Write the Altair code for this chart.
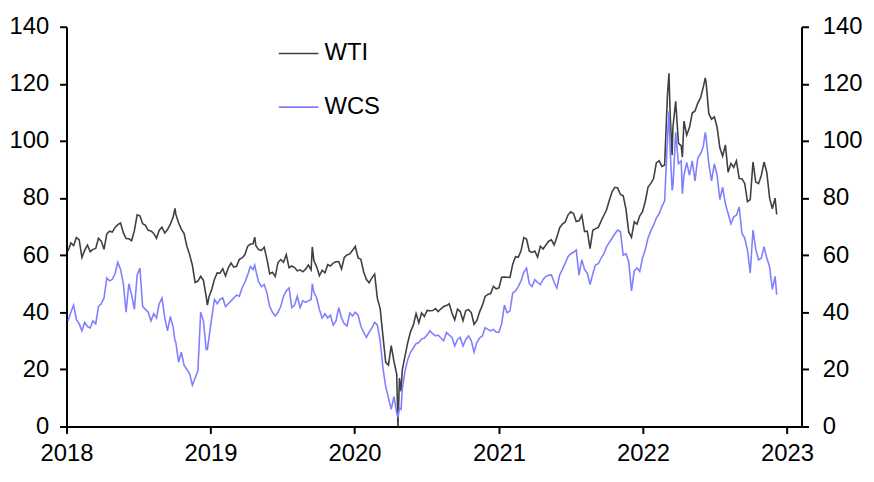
import altair as alt
import pandas as pd

# Weekly (Friday) observations, US$ per barrel
wti_2018 = [61.44, 64.30, 63.37, 66.14,
            65.45, 59.20, 61.68, 63.55,
            61.25, 62.04, 62.34, 65.88, 64.94,
            62.06, 67.39, 68.38, 68.10,
            69.72, 70.70, 71.28, 67.88,
            65.81, 65.74, 65.06, 68.58, 74.15,
            73.80, 71.01, 70.46, 68.69,
            68.49, 67.63, 65.91, 68.72, 69.80,
            67.75, 68.99, 70.78, 73.25,
            74.34, 71.34, 69.12, 67.59,
            63.14, 60.19, 56.46, 50.42, 50.93,
            52.61, 51.20, 45.59, 45.33]
wti_2019 = [47.96, 51.59, 53.80, 53.69,
            55.26, 52.72, 55.59, 57.26,
            55.80, 56.07, 58.52, 59.04, 60.14,
            63.08, 63.89, 64.00, 63.30,
            61.94, 61.66, 62.76, 58.63, 53.50,
            53.99, 52.51, 57.43, 58.47,
            57.51, 60.21, 55.63, 56.20,
            55.66, 54.50, 54.87, 54.17, 55.10,
            56.52, 54.85, 58.09, 55.91,
            52.81, 54.70, 53.78, 56.66,
            56.20, 57.24, 57.72, 57.77, 55.17,
            59.20, 60.07, 60.44, 61.72]
wti_2020 = [63.05, 59.04, 58.54, 54.19, 51.56,
            50.32, 52.05, 53.38, 44.76,
            41.28, 31.73, 22.43, 21.51,
            28.34, 22.76, 18.27, 16.94,
            19.78, 24.74, 29.43, 33.25, 35.49,
            39.55, 36.26, 39.75, 38.49,
            40.65, 40.55, 40.59, 41.29, 40.27,
            41.22, 42.01, 42.34, 42.97,
            39.77, 37.33, 41.11, 40.25,
            37.05, 40.60, 40.88, 39.85, 35.79,
            37.14, 40.13, 42.42, 45.53,
            46.26, 46.57, 49.10, 48.23]
wti_2021 = [48.52, 52.24, 52.36, 52.27, 52.20,
            56.85, 59.47, 59.24, 61.50,
            66.09, 65.61, 61.42, 60.97,
            61.45, 59.32, 63.13, 62.14, 63.58,
            64.90, 65.37, 63.58, 66.32,
            69.62, 70.91, 71.64, 74.05,
            75.16, 74.56, 71.81, 72.07, 73.95,
            68.28, 68.44, 62.32, 68.74,
            69.29, 69.72, 71.97, 73.98,
            75.88, 79.35, 82.28, 83.76, 83.57,
            81.27, 80.79, 76.10, 68.15,
            66.26, 71.67, 70.86, 73.79, 75.21]
wti_2022 = [78.90, 83.82, 85.14, 86.82,
            92.31, 93.10, 91.07, 91.59,
            115.68, 109.33, 104.70, 113.90,
            99.27, 98.26, 106.95, 102.07, 104.69,
            109.77, 110.49, 113.23, 115.07,
            118.87, 120.67, 109.56, 107.62,
            108.43, 104.79, 97.59, 94.70, 98.62,
            89.01, 92.09, 90.77, 93.06,
            86.87, 86.79, 85.11, 78.74, 79.49,
            92.64, 85.61, 85.05, 87.90,
            92.61, 88.96, 80.08, 76.28,
            79.98]

wcs_2018 = [37.0, 40.0, 42.5, 37.5,
            36.0, 33.5, 36.5, 35.0,
            34.5, 37.0, 36.0, 42.0, 43.0,
            45.0, 52.0, 51.0, 51.5,
            53.5, 57.5, 55.0, 50.0,
            40.0, 50.0, 46.0, 41.0, 53.0,
            55.5, 42.0, 41.0, 40.0,
            37.0, 39.5, 38.0, 43.0, 45.0,
            38.0, 33.5, 38.5, 35.0,
            29.5, 22.5, 26.0, 21.5,
            20.0, 18.5, 14.5, 17.0, 19.5,
            40.0, 37.0, 27.0, 31.0]
wcs_2019 = [38.0, 44.5, 43.0, 44.5,
            45.0, 42.0, 43.0, 44.0,
            45.0, 46.0, 45.6, 48.5, 50.5,
            53.0, 56.0, 55.0, 54.5,
            50.5, 49.0, 49.7, 46.8, 42.0,
            40.0, 38.7, 40.0, 42.0,
            45.6, 47.5, 48.5, 41.6,
            42.5, 45.6, 41.6, 44.0, 43.5,
            44.0, 44.5, 47.0, 45.0,
            41.0, 38.0, 39.5, 38.0,
            39.0, 35.5, 37.0, 41.6, 38.0,
            36.0, 35.2, 39.8, 38.7]
wcs_2020 = [40.0, 39.0, 35.2, 33.0, 31.2,
            33.0, 34.5, 36.5, 35.5,
            30.0, 20.5, 14.0, 10.0,
            6.0, 10.5, 4.5, 6.5,
            13.0, 19.5, 23.5, 26.0, 27.5,
            29.0, 29.4, 30.6, 31.0,
            32.0, 33.5, 32.5, 31.7, 32.0,
            31.0, 30.0, 32.9, 32.0,
            31.2, 28.2, 30.5, 31.2,
            28.2, 30.5, 31.7, 30.0, 26.0,
            29.4, 31.0, 31.7, 34.6,
            34.0, 33.5, 34.0, 33.0]
wcs_2021 = [33.0, 36.0, 42.5, 39.8, 40.5,
            46.8, 47.5, 49.0, 51.0,
            54.0, 55.5, 50.0, 49.0,
            51.4, 50.5, 49.7, 51.5, 52.6,
            53.0, 53.1, 50.5, 48.5,
            53.1, 55.0, 57.2, 59.5,
            60.5, 61.0, 61.8, 53.0, 58.4,
            55.0, 53.7, 49.7, 53.5,
            56.6, 57.0, 59.0, 60.5,
            63.0, 64.5, 66.0, 67.5, 68.8,
            68.2, 60.0, 60.5, 57.8,
            47.5, 54.5, 55.5, 54.3, 59.0]
wcs_2022 = [62.0, 66.0, 68.5, 70.5,
            73.0, 74.5, 77.0, 79.0,
            100.0, 97.0, 84.0, 103.0,
            92.0, 93.0, 88.0, 92.5, 88.0,
            93.0, 86.0, 94.0, 95.5,
            98.0, 101.5, 92.0, 86.0,
            92.0, 88.0, 79.5, 83.8, 78.0,
            74.6, 71.0, 73.4, 74.0,
            76.9, 67.6, 66.0, 61.8, 53.7,
            68.8, 62.0, 58.4, 58.9,
            63.0, 59.0, 56.0, 48.0,
            52.6]

# Additional daily extremes visible in the chart
extra_dates = ["2018-10-03", "2018-12-24", "2019-04-23", "2019-09-16", "2020-04-20",
               "2020-04-28", "2022-03-08", "2022-03-16", "2022-04-11", "2022-06-08",
               "2022-12-06"]
extra_wti = [76.4, 42.5, 66.3, 62.9, 0.0, 12.3, 123.7, 95.0, 94.3, 122.1, 74.25]
extra_wcs = [30.0, 27.0, 56.5, 50.0, 3.5, 6.0, 110.5, 82.7, 81.5, 103.0, 46.2]

series_names = ["WTI", "WCS"]
series_colors = ["#404040", "#8080ff"]
year_ticks = [2018, 2019, 2020, 2021, 2022, 2023]
y_ticks = [0, 20, 40, 60, 80, 100, 120, 140]

wti_weekly = wti_2018 + wti_2019 + wti_2020 + wti_2021 + wti_2022
wcs_weekly = wcs_2018 + wcs_2019 + wcs_2020 + wcs_2021 + wcs_2022
weekly_dates = pd.date_range("2018-01-05", periods=len(wti_weekly), freq="W-FRI")

dates = list(weekly_dates) + list(pd.to_datetime(extra_dates))
wti_all = wti_weekly + extra_wti
wcs_all = wcs_weekly + extra_wcs

df = pd.DataFrame({"date": dates, "WTI": wti_all, "WCS": wcs_all}).sort_values("date")
long = df.melt(id_vars="date", value_vars=series_names, var_name="series", value_name="price")
long["order"] = long["series"].map({"WTI": 0, "WCS": 1})

FONT = "Liberation Sans"
FS = 24

x_enc = alt.X(
    "date:T",
    scale=alt.Scale(domain=[alt.DateTime(year=2018, month=1, date=1),
                            alt.DateTime(year=2023, month=2, date=7)]),
    axis=alt.Axis(values=[alt.DateTime(year=y, month=1, date=1) for y in year_ticks],
                  format="%Y", title=None, grid=False, labelFontSize=FS,
                  labelFont=FONT, labelColor="black", domainColor="black",
                  domainWidth=2, tickColor="black", tickWidth=2, tickSize=7,
                  labelPadding=8, labelFlush=False, labelOverlap=False),
)
y_scale = alt.Scale(domain=[0, 140], nice=False)

lines = alt.Chart(long).mark_line(strokeWidth=1.6).encode(
    x=x_enc,
    y=alt.Y("price:Q", scale=y_scale,
            axis=alt.Axis(values=y_ticks, orient="left",
                          title=None, grid=False, labelFontSize=FS, labelFont=FONT,
                          labelColor="black", domainColor="black", domainWidth=2,
                          tickColor="black", tickWidth=2, tickSize=7, labelPadding=11)),
    color=alt.Color("series:N",
                    scale=alt.Scale(domain=series_names, range=series_colors),
                    legend=alt.Legend(title=None, orient="none", legendX=213, legendY=6,
                                      symbolType="stroke", symbolSize=1600,
                                      symbolStrokeWidth=1.6, labelFontSize=FS,
                                      labelFont=FONT, labelColor="black",
                                      labelOffset=5, rowPadding=21)),
    order=alt.Order("order:Q"),
    detail="series:N",
)

right = alt.Chart(long).mark_line(strokeOpacity=0).encode(
    x=alt.X("date:T"),
    y=alt.Y("price:Q", scale=y_scale,
            axis=alt.Axis(values=y_ticks, orient="right",
                          title=None, grid=False, labelFontSize=FS, labelFont=FONT,
                          labelColor="black", domainColor="black", domainWidth=2,
                          tickColor="black", tickWidth=2, tickSize=7, labelPadding=14)),
    detail="series:N",
)

chart = alt.layer(lines, right).resolve_axis(y="independent").properties(
    width=741, height=403,
    padding={"left": 59, "top": 17, "right": 65, "bottom": 45},
    autosize=alt.AutoSizeParams(type="none"),
).configure_view(strokeWidth=0)

chart.save("out.html", embed_options={"renderer": "svg", "actions": False})
